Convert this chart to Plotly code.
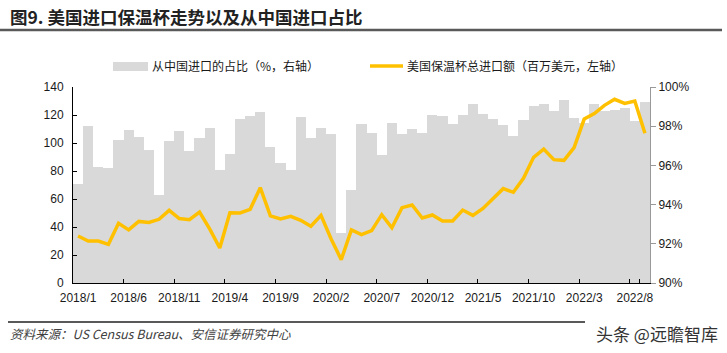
import plotly.graph_objects as go

# ---------------- data ----------------
months = [f"{y}/{m}" for y in range(2018, 2023) for m in range(1, 13)][:57]
tick_labels = ["2018/1", "2018/6", "2018/11", "2019/4", "2019/9", "2020/2",
               "2020/7", "2020/12", "2021/5", "2021/10", "2022/3", "2022/8"]
right_ticks = [90, 92, 94, 96, 98, 100]
right_tick_text = ["90%", "92%", "94%", "96%", "98%", "100%"]
left_ticks = [0, 20, 40, 60, 80, 100, 120, 140]

# share of imports from China (%, right axis)
china_share = [95.04, 97.99, 95.94, 95.86, 97.28, 97.81, 97.45, 96.79, 94.47, 97.24,
               97.76, 96.74, 97.41, 97.89, 95.76, 96.56, 98.39, 98.50, 98.71, 96.92,
               96.12, 95.76, 98.47, 97.41, 97.91, 97.62, 92.57, 94.73, 98.11, 97.65,
               96.51, 98.18, 97.62, 97.86, 97.64, 98.56, 98.50, 98.11, 98.59, 99.14,
               98.61, 98.39, 98.05, 97.48, 98.31, 99.03, 99.15, 98.76, 99.35, 98.40,
               98.16, 99.15, 98.79, 98.83, 98.93, 98.25, 99.26]

# US total imports of vacuum flasks (USD mn, left axis)
import_value = [33.6, 30.0, 30.0, 27.6, 42.6, 37.9, 44.0, 43.3, 45.5, 51.9,
                46.0, 45.2, 50.7, 38.6, 25.0, 50.2, 50.0, 52.6, 68.1, 47.9,
                45.7, 47.6, 44.8, 40.5, 48.3, 31.4, 16.7, 37.9, 34.5, 37.4,
                48.8, 39.5, 53.8, 55.7, 46.4, 48.6, 44.3, 44.3, 52.1, 48.3,
                53.3, 60.0, 67.4, 64.8, 74.8, 89.8, 95.7, 88.1, 87.6, 96.7,
                117.1, 121.0, 126.9, 131.2, 128.3, 130.0, 106.9]

bar_name = "从中国进口的占比（%，右轴）"
line_name = "美国保温杯总进口额（百万美元，左轴）"
title_text = "图9. 美国进口保温杯走势以及从中国进口占比"
source_text = "资料来源：US Census Bureau、安信证券研究中心"
watermark_text = "头条 @远瞻智库"

FONT = "Liberation Sans, Arial, Noto Sans CJK SC, sans-serif"
CJK = "Noto Sans CJK SC, sans-serif"
BAR_C = "#D9D9D9"
LINE_C = "#FFC000"
TXT = "#1a1a1a"

fig = go.Figure()
fig.add_trace(go.Bar(x=months, y=china_share, name=bar_name, yaxis="y",
                     marker=dict(color=BAR_C, line=dict(width=0))))
fig.add_trace(go.Scatter(x=months, y=import_value, name=line_name, yaxis="y2",
                         mode="lines", line=dict(color=LINE_C, width=3.5)))

fig.update_layout(
    width=727, height=353,
    margin=dict(l=73, r=77, t=87, b=70),
    paper_bgcolor="white", plot_bgcolor="white",
    bargap=0, showlegend=False,
    font=dict(family=FONT, size=12, color=TXT),
    xaxis=dict(type="category", tickmode="array", tickvals=tick_labels, ticktext=tick_labels,
               tickson="boundaries", ticks="inside", ticklen=4, tickcolor="#000", tickangle=0,
               showline=True, linecolor="#000", linewidth=1, showgrid=False,
               tickfont=dict(family=FONT, size=12, color=TXT), ticklabelstandoff=4),
    yaxis=dict(side="right", range=[90, 100], tickmode="array", tickvals=right_ticks,
               ticktext=right_tick_text, ticks="outside", ticklen=5, tickcolor="#999",
               showline=True, linecolor="#999", linewidth=1, showgrid=False, zeroline=False,
               tickfont=dict(family=FONT, size=12, color=TXT)),
    yaxis2=dict(overlaying="y", side="left", range=[0, 140], tickmode="array", tickvals=left_ticks,
                ticks="inside", ticklen=4, tickcolor="#000",
                showline=True, linecolor="#000", linewidth=1, showgrid=False, zeroline=False,
                tickfont=dict(family=FONT, size=12, color=TXT), ticklabelstandoff=6),
)

shapes = [
    # separator under title
    dict(type="line", xref="paper", yref="paper", x0=-73/577, x1=(722-73)/577,
         y0=1 + (87-30)/196, y1=1 + (87-30)/196, line=dict(color="#595959", width=2.5)),
    # footer separator
    dict(type="line", xref="paper", yref="paper", x0=-65/577, x1=(585-73)/577,
         y0=-(322-283)/196, y1=-(322-283)/196, line=dict(color="#595959", width=2)),
    # legend: bar swatch
    dict(type="rect", xref="paper", yref="paper", x0=(113-73)/577, x1=(148-73)/577,
         y0=1 + (87-71)/196, y1=1 + (87-62)/196, fillcolor=BAR_C, line=dict(width=0)),
    # legend: line swatch
    dict(type="line", xref="paper", yref="paper", x0=(370-73)/577, x1=(403-73)/577,
         y0=1 + (87-66)/196, y1=1 + (87-66)/196, line=dict(color=LINE_C, width=3.5)),
]

annotations = [
    dict(text=f"<b>{title_text}</b>", xref="paper", yref="paper", x=-65/577, y=1 + (87-16)/196,
         xanchor="left", yanchor="middle", showarrow=False,
         font=dict(family=CJK, size=17.5, color="#222")),
    dict(text=bar_name, xref="paper", yref="paper", x=(150-73)/577, y=1 + (87-66)/196,
         xanchor="left", yanchor="middle", showarrow=False, font=dict(family=CJK, size=12, color=TXT)),
    dict(text=line_name, xref="paper", yref="paper", x=(405-73)/577, y=1 + (87-66)/196,
         xanchor="left", yanchor="middle", showarrow=False, font=dict(family=CJK, size=12, color=TXT)),
    dict(text=f"<i>{source_text}</i>", xref="paper", yref="paper", x=-65/577, y=-(333-283)/196,
         xanchor="left", yanchor="middle", showarrow=False, font=dict(family=CJK, size=12.5, color="#404040")),
    dict(text=watermark_text, xref="paper", yref="paper", x=(720-73)/577, y=-(333-283)/196,
         xanchor="right", yanchor="middle", showarrow=False, font=dict(family=CJK, size=17, color="#333")),
]

fig.update_layout(shapes=shapes, annotations=annotations)
fig.write_html("out.html")
